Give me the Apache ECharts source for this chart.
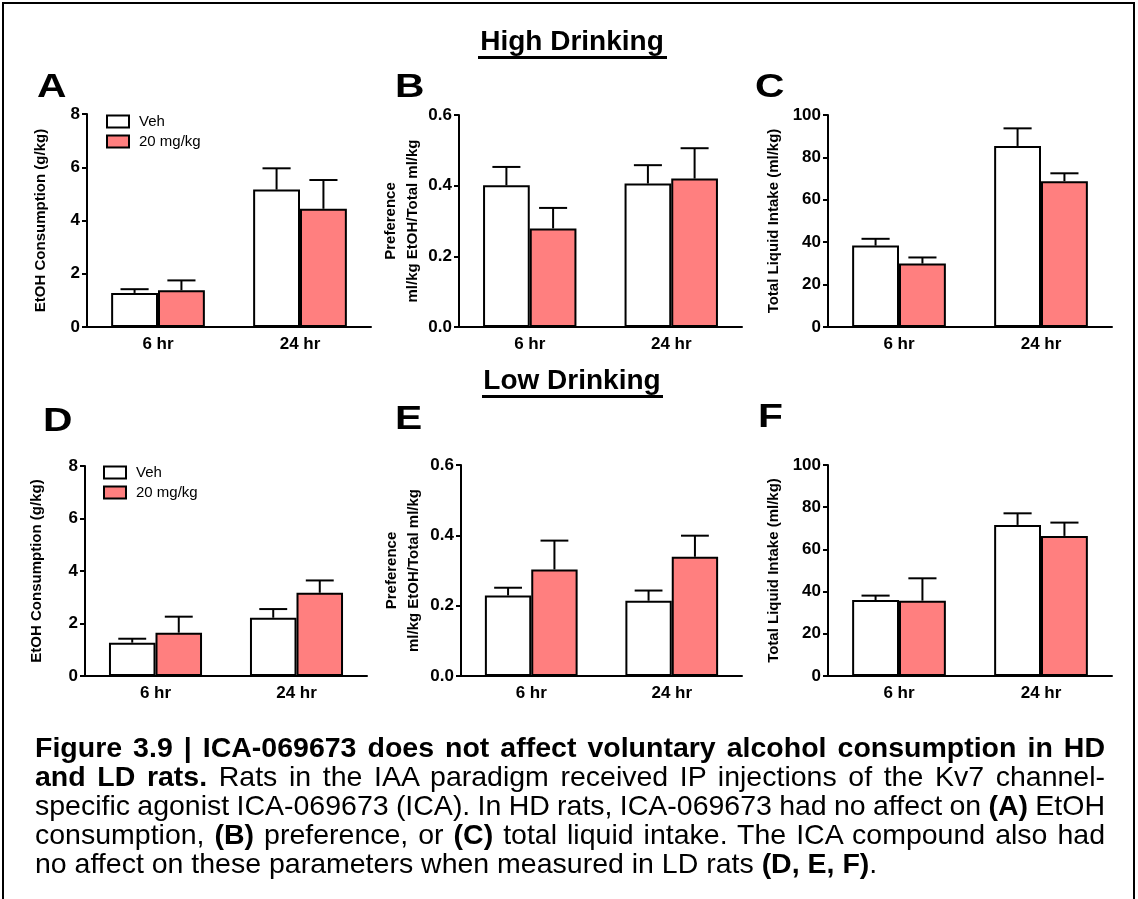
<!DOCTYPE html>
<html>
<head>
<meta charset="utf-8">
<script src="https://cdn.jsdelivr.net/npm/echarts@6/dist/echarts.min.js"></script>
<style>
  html, body { margin:0; padding:0; background:#fff; }
  #wrap { position:relative; width:1138px; height:899px; overflow:hidden; }
  #chart { position:absolute; left:0; top:0; width:1138px; height:899px; }
  #frame { position:absolute; left:2px; top:2px; width:1129px; height:960px; border:2px solid #000; }
  #caption { position:absolute; left:35px; top:733px; width:1070px; font-family:"Liberation Sans", Arial, sans-serif; font-size:28.5px; line-height:29px; color:#000; }
  #caption .ln { text-align:justify; text-align-last:justify; word-spacing:-5px; }
  #caption .ln.last { text-align:left; text-align-last:left; word-spacing:0; }
</style>
</head>
<body>
<div id="wrap">
  <div id="frame"></div>
  <div id="chart"></div>
  <div id="caption">
    <div class="ln"><b>Figure 3.9 | ICA-069673 does not affect voluntary alcohol consumption in HD</b></div>
    <div class="ln"><b>and LD rats.</b> Rats in the IAA paradigm received IP injections of the Kv7 channel-</div>
    <div class="ln">specific agonist ICA-069673 (ICA). In HD rats, ICA-069673 had no affect on <b>(A)</b> EtOH</div>
    <div class="ln">consumption, <b>(B)</b> preference, or <b>(C)</b> total liquid intake. The ICA compound also had</div>
    <div class="ln last">no affect on these parameters when measured in LD rats <b>(D, E, F)</b>.</div>
  </div>
</div>
<script>
// ---------------- data ----------------
const categories = ['6 hr', '24 hr'];
const seriesNames = ['Veh', '20 mg/kg'];

// High Drinking
const A_veh = [1.28, 5.16];   const A_vehSem = [0.14, 0.80];
const A_drug = [1.38, 4.44];  const A_drugSem = [0.37, 1.08];
const B_veh = [0.401, 0.406]; const B_vehSem = [0.052, 0.052];
const B_drug = [0.279, 0.420];const B_drugSem = [0.058, 0.086];
const C_veh = [38.4, 85.4];   const C_vehSem = [3.2, 8.3];
const C_drug = [29.9, 68.8];  const C_drugSem = [2.9, 3.7];
// Low Drinking
const D_veh = [1.27, 2.22];   const D_vehSem = [0.15, 0.33];
const D_drug = [1.65, 3.17];  const D_drugSem = [0.61, 0.47];
const E_veh = [0.229, 0.214]; const E_vehSem = [0.022, 0.029];
const E_drug = [0.303, 0.339];const E_drugSem = [0.082, 0.060];
const F_veh = [36.0, 71.6];   const F_vehSem = [2.1, 5.5];
const F_drug = [35.7, 66.4];  const F_drugSem = [10.6, 6.3];

const yTitles = {
  etoh: 'EtOH Consumption (g/kg)',
  pref: 'Preference\nml/kg EtOH/Total ml/kg',
  total: 'Total Liquid Intake (ml/kg)'
};
const yTicksEtoh = [0, 2, 4, 6, 8];
const yTicksPref = [0, 0.2, 0.4, 0.6];
const yTicksTotal = [0, 20, 40, 60, 80, 100];

// ---------------- layout ----------------
const FONT = '"Liberation Sans", Arial, Helvetica, sans-serif';
const DRUG_COLOR = '#FF7F7F';
const CAT_GAP = 0.34;

const panels = [
  { letter:'A', lx:37,  ly:71,  grid:{left:87,  top:114, width:284, height:213}, ticks:yTicksEtoh, title:yTitles.etoh, gap:35, veh:A_veh, vehSem:A_vehSem, drug:A_drug, drugSem:A_drugSem, dec:0 },
  { letter:'B', lx:395, ly:71,  grid:{left:459, top:115, width:283, height:212}, ticks:yTicksPref, title:yTitles.pref, gap:35, veh:B_veh, vehSem:B_vehSem, drug:B_drug, drugSem:B_drugSem, dec:1 },
  { letter:'C', lx:755, ly:71,  grid:{left:828, top:115, width:284, height:212}, ticks:yTicksTotal, title:yTitles.total, gap:43, veh:C_veh, vehSem:C_vehSem, drug:C_drug, drugSem:C_drugSem, dec:0 },
  { letter:'D', lx:43,  ly:405, grid:{left:85,  top:466, width:282, height:210}, ticks:yTicksEtoh, title:yTitles.etoh, gap:37, veh:D_veh, vehSem:D_vehSem, drug:D_drug, drugSem:D_drugSem, dec:0 },
  { letter:'E', lx:395, ly:403, grid:{left:461, top:465, width:281, height:211}, ticks:yTicksPref, title:yTitles.pref, gap:36, veh:E_veh, vehSem:E_vehSem, drug:E_drug, drugSem:E_drugSem, dec:1 },
  { letter:'F', lx:758, ly:401, grid:{left:828, top:465, width:284, height:211}, ticks:yTicksTotal, title:yTitles.total, gap:43, veh:F_veh, vehSem:F_vehSem, drug:F_drug, drugSem:F_drugSem, dec:0 }
];

function errRender(sign) {
  return function (params, api) {
    const xi = api.value(0), m = api.value(1), hi = api.value(2);
    const band = api.size([1, 0])[0];
    const bw = band * (1 - CAT_GAP) / 2;
    const p0 = api.coord([xi, m]);
    const p1 = api.coord([xi, hi]);
    const cx = p0[0] + sign * bw / 2;
    const cap = bw * 0.3;
    const st = { stroke:'#000', lineWidth:2 };
    return { type:'group', children:[
      { type:'line', shape:{ x1:cx, y1:p0[1], x2:cx, y2:p1[1] }, style:st },
      { type:'line', shape:{ x1:cx - cap, y1:p1[1], x2:cx + cap, y2:p1[1] }, style:st }
    ]};
  };
}

const grids = [], xAxes = [], yAxes = [], series = [], graphics = [];
panels.forEach((p, i) => {
  grids.push(Object.assign({ containLabel:false }, p.grid));
  xAxes.push({
    type:'category', gridIndex:i, data:categories,
    axisLine:{ lineStyle:{ color:'#000', width:2 } },
    axisTick:{ alignWithLabel:true, length:6, lineStyle:{ color:'#000', width:2 } },
    axisLabel:{ color:'#000', fontFamily:FONT, fontWeight:'bold', fontSize:17, margin:9 }
  });
  const t = p.ticks;
  yAxes.push({
    type:'value', gridIndex:i, min:t[0], max:t[t.length - 1], interval:t[1] - t[0],
    name:p.title, nameLocation:'middle', nameGap:p.gap,
    nameTextStyle:{ color:'#000', fontFamily:FONT, fontWeight:'bold', fontSize:15, lineHeight:22 },
    splitLine:{ show:false },
    axisLine:{ show:true, lineStyle:{ color:'#000', width:2 } },
    axisTick:{ show:true, length:5, lineStyle:{ color:'#000', width:2 } },
    axisLabel:{ color:'#000', fontFamily:FONT, fontWeight:'bold', fontSize:17, margin:7,
      formatter: v => v.toFixed(p.dec) }
  });
  series.push({
    name:seriesNames[0], type:'bar', xAxisIndex:i, yAxisIndex:i, data:p.veh,
    barGap:'0%', barCategoryGap:(CAT_GAP * 100) + '%',
    itemStyle:{ color:'#fff', borderColor:'#000', borderWidth:2 }, z:2
  });
  series.push({
    name:seriesNames[1], type:'bar', xAxisIndex:i, yAxisIndex:i, data:p.drug,
    barGap:'0%', barCategoryGap:(CAT_GAP * 100) + '%',
    itemStyle:{ color:DRUG_COLOR, borderColor:'#000', borderWidth:2 }, z:2
  });
  series.push({
    type:'custom', xAxisIndex:i, yAxisIndex:i, renderItem:errRender(-1), z:3,
    encode:{ x:0, y:[1, 2] },
    data:p.veh.map((v, k) => [k, v, v + p.vehSem[k]])
  });
  series.push({
    type:'custom', xAxisIndex:i, yAxisIndex:i, renderItem:errRender(1), z:3,
    encode:{ x:0, y:[1, 2] },
    data:p.drug.map((v, k) => [k, v, v + p.drugSem[k]])
  });
  graphics.push({ type:'text', left:p.lx, top:p.ly, scaleX:1.2,
    style:{ text:p.letter, font:'bold 34px ' + FONT, fill:'#000' } });
});

function legendAt(left, top) {
  return {
    data:seriesNames, orient:'vertical', left:left, top:top, padding:0,
    itemWidth:22, itemHeight:12, itemGap:5, icon:'rect', selectedMode:false,
    itemStyle:{ borderColor:'#000', borderWidth:2 },
    textStyle:{ color:'#000', fontFamily:FONT, fontSize:15, padding:[0, 0, 0, 5] }
  };
}

// section titles with underline
function sectionTitle(text, cx, baseline, ulLeft, ulWidth) {
  graphics.push({ type:'text', x:cx, y:baseline + 4.3, style:{ text:text, font:'bold 28px ' + FONT, fill:'#000', align:'center', verticalAlign:'bottom' } });
  graphics.push({ type:'rect', shape:{ x:ulLeft, y:baseline + 4, width:ulWidth, height:3 }, style:{ fill:'#000' } });
}
sectionTitle('High Drinking', 572, 52, 478, 189);
sectionTitle('Low Drinking', 572, 391, 482, 181);

const chart = echarts.init(document.getElementById('chart'));
chart.setOption({
  animation:false,
  backgroundColor:'transparent',
  textStyle:{ fontFamily:FONT },
  grid:grids, xAxis:xAxes, yAxis:yAxes,
  legend:[ legendAt(106, 114), legendAt(103, 465) ],
  series:series,
  graphic:graphics
});
</script>
</body>
</html>
